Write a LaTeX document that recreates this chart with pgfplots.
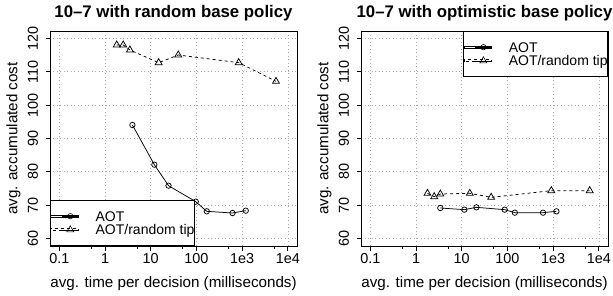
\documentclass[border=0pt]{standalone}
\usepackage{pgfplots}
\pgfplotsset{compat=1.18}
\usepackage{fontspec}
\setmainfont{Liberation Sans}
\definecolor{gridgray}{RGB}{170,170,170}
\newcommand{\fsz}{\fontsize{14.4bp}{16bp}\selectfont}
\newcommand{\fsg}{\fontsize{14bp}{16bp}\selectfont}
\newcommand{\fsl}{\fontsize{15.2bp}{17bp}\selectfont}
\pgfplotsset{
  every axis/.append style={
    scale only axis, width=247bp, height=215bp,
    xmin=0.0625, xmax=15850,
    ymin=57.7, ymax=122.2,
    xtick={0.1,1,10,100,1000,10000},
    xticklabels={0.1,1,10,100,1e3,1e4},
    minor xtick={0.5,5,50,500,5000},
    ytick={60,70,80,90,100,110,120},
    yticklabels={60,70,80,90,100,110,120},
    tick align=outside, tick pos=left,
    major tick length=4.5bp, minor tick length=2.5bp,
    grid=major,
    major grid style={gridgray, dash pattern=on 1bp off 2.5bp, line width=0.7bp},
    axis line style={line width=0.8bp},
    every tick/.style={black, line width=0.8bp},
    tick label style={font=\fsz},
    xticklabel style={yshift=0.5bp},
    yticklabel style={xshift=-4bp, rotate=90, anchor=south},
    xlabel style={font=\fsl, at={(axis description cs:0.5,-0.1907)}, anchor=base},
    ylabel style={font=\fsl, at={(axis description cs:-0.1316,0.5)}, anchor=base},
    title style={font=\bfseries\fontsize{16.8bp}{18bp}\selectfont, at={(axis description cs:0.5,1.037)}, anchor=base},
    legend cell align=left,
    legend style={draw=black, line width=0.8bp, fill=white, font=\fsg,
      inner xsep=0bp, inner ysep=9bp, row sep=0bp,
      nodes={inner xsep=0bp, inner ysep=0bp, text height=11.8bp, text depth=1.8bp},
      /tikz/every odd column/.append style={column sep=17bp}},
  },
  rlegend/.style={legend image code/.code={
    \path (0bp,-1bp) rectangle (27.5bp,1bp);
    \draw[##1, line width=0.6bp] (11.5bp,0bp) -- (27.5bp,0bp);
    \path[##1, solid, line width=0.6bp] plot coordinates {(19.5bp,0bp)};
  }},
  circ/.style={black, line width=0.75bp, mark=o, mark size=2.7bp, mark options={solid, fill=white}, rlegend},
  tri/.style={black, line width=0.75bp, dash pattern=on 3bp off 3bp, mark=triangle, mark size=4bp, mark options={solid, fill=white}, rlegend},
}
\begin{document}
\begin{tikzpicture}
\path[use as bounding box] (0bp,0bp) rectangle (613bp,296bp);
\begin{semilogxaxis}[at={(50bp,50bp)}, anchor=south west,
  title={10–7 with random base policy},
  xlabel={avg. time per decision (milliseconds)},
  ylabel={avg. accumulated cost},
  legend style={at={(0,0)}, anchor=south west}]
\addplot[circ] coordinates {(3.97,94.0) (12,82.1) (24.5,75.8) (96.6,71.0) (168,68.1) (615,67.6) (1200,68.3)};
\addlegendentry{AOT}
\addplot[tri] coordinates {(1.8,118.0) (2.5,118.0) (3.5,116.5) (14.9,112.7) (40,115.0) (841,112.7) (5500,107.1)};
\addlegendentry{AOT/random tip}
\end{semilogxaxis}
\begin{semilogxaxis}[at={(361bp,50bp)}, anchor=south west,
  title={10–7 with optimistic base policy},
  xlabel={avg. time per decision (milliseconds)},
  ylabel={avg. accumulated cost},
  legend style={at={(1,1)}, anchor=north east}]
\addplot[circ] coordinates {(3.4,69.1) (11.4,68.6) (21,69.3) (87,68.6) (145,67.7) (600,67.7) (1180,68.1)};
\addlegendentry{AOT}
\addplot[tri] coordinates {(1.78,73.5) (2.5,72.5) (3.4,73.3) (15,73.5) (44,72.3) (912,74.3) (6300,74.3)};
\addlegendentry{AOT/random tip}
\end{semilogxaxis}
\end{tikzpicture}
\end{document}
